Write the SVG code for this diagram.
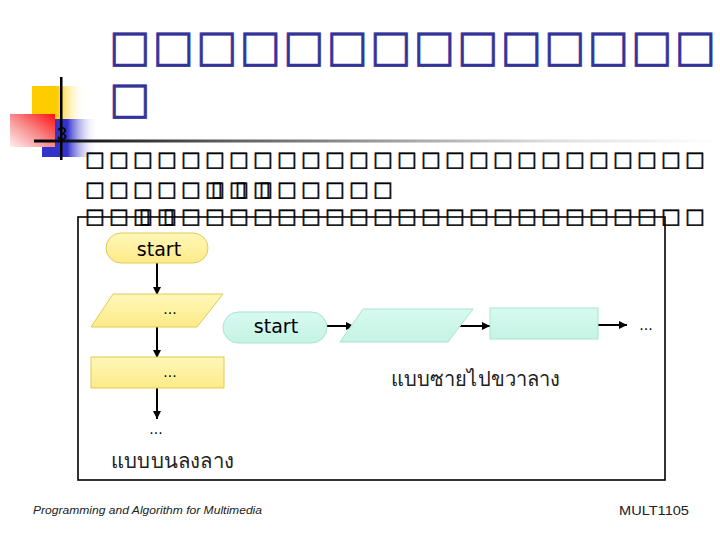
<svg xmlns="http://www.w3.org/2000/svg" width="720" height="540" viewBox="0 0 720 540">
<defs>
<linearGradient id="gYel" x1="0" y1="0" x2="1" y2="0"><stop offset="0" stop-color="#FFCC00"/><stop offset="0.45" stop-color="#FFCC00"/><stop offset="1" stop-color="#FFFFFF" stop-opacity="0"/></linearGradient>
<linearGradient id="gBlue" x1="0" y1="0" x2="1" y2="0"><stop offset="0" stop-color="#3333CC"/><stop offset="0.45" stop-color="#3333CC"/><stop offset="1" stop-color="#FFFFFF" stop-opacity="0"/></linearGradient>
<linearGradient id="gRed" x1="1" y1="0" x2="0" y2="1"><stop offset="0" stop-color="#FF1010"/><stop offset="0.5" stop-color="#F78A8A"/><stop offset="1" stop-color="#FFF0F0"/></linearGradient>
<linearGradient id="gLine" x1="0" y1="0" x2="1" y2="0"><stop offset="0" stop-color="#000000"/><stop offset="0.25" stop-color="#555555"/><stop offset="0.75" stop-color="#DDDDDD"/><stop offset="1" stop-color="#FFFFFF"/></linearGradient>
<linearGradient id="gY" x1="0" y1="0" x2="0" y2="1"><stop offset="0" stop-color="#FFF7B8"/><stop offset="1" stop-color="#FDEB88"/></linearGradient>
<linearGradient id="gC" x1="0" y1="0" x2="0" y2="1"><stop offset="0" stop-color="#D8FAF0"/><stop offset="1" stop-color="#C4F3E4"/></linearGradient>
<marker id="arr" viewBox="0 0 10 10" refX="10" refY="5" markerWidth="8" markerHeight="8" markerUnits="userSpaceOnUse" orient="auto"><path d="M0,0 L10,5 L0,10 z" fill="#000"/></marker>
</defs>
<style>
.title{font-family:"DejaVu Sans",sans-serif;font-size:44px;fill:#333399;stroke:#333399;stroke-width:0.6}
.body{font-family:"DejaVu Sans",sans-serif;font-size:21px;font-weight:bold;fill:#000;stroke:#000;stroke-width:0.5}
.lbl{font-family:"DejaVu Sans",sans-serif;font-size:19px;fill:#000}
.dots{font-family:"DejaVu Sans",sans-serif;font-size:14px;fill:#000}
.thai{font-family:"Noto Sans","DejaVu Sans",sans-serif;font-size:20px;fill:#222}
.foot{font-family:"Liberation Sans",Arial,sans-serif;fill:#222}
.ty{fill:url(#gY);stroke:#E2C955;stroke-width:1}
.tc{fill:url(#gC);stroke:#A9E3D3;stroke-width:1}
.con{stroke:#000;stroke-width:2;fill:none;marker-end:url(#arr)}
</style>
<rect width="720" height="540" fill="#FFFFFF"/>
<g id="decor">
<rect x="32" y="86" width="54" height="33" fill="url(#gYel)"/>
<rect x="42" y="119" width="56" height="38" fill="url(#gBlue)"/>
<rect x="10" y="114" width="45" height="33" fill="url(#gRed)"/>
<rect x="34" y="139.5" width="686" height="3" fill="url(#gLine)"/>
<rect x="60" y="77" width="2.5" height="83" fill="#000"/>
<text x="57" y="140" font-family="Liberation Sans,Arial,sans-serif" font-size="18" fill="#000">3</text>
</g>
<g id="title">
<text class="title" x="109 152.5 196 239.5 283 326.5 370 413.5 457 500.5 544 587.5 631 674.5" y="61">□□□□□□□□□□□□□□</text>
<text class="title" x="109" y="113">□</text>
</g>
<g id="bodytext">
<text class="body" x="85 109 133 157 181 205 229 253 277 301 325 349 373 397 421 445 469 493 517 541 565 589 613 637 661 685" y="166">□□□□□□□□□□□□□□□□□□□□□□□□□□</text>
<text class="body" x="85 109 133 157 181 205 211 229 235 253 259 277 301 325 349 373" y="196">□□□□□□▯□▯□▯□□□□□</text>
<text class="body" x="85 109 133 139 157 163 181 205 229 253 277 301 325 349 373 397 421 445 469 493 517 541 565 589 613 637 661 685" y="223">□□□▯□▯□□□□□□□□□□□□□□□□□□□□□□</text>
</g>
<g id="frame">
<rect x="78" y="217" width="587" height="263" fill="none" stroke="#000" stroke-width="1.6"/>
</g>
<g id="connectors">
<line class="con" x1="157" y1="263" x2="157" y2="295"/>
<line class="con" x1="157" y1="327" x2="157" y2="358"/>
<line class="con" x1="157" y1="388" x2="157" y2="419"/>
<line class="con" x1="327" y1="326" x2="354" y2="326"/>
<line class="con" x1="460" y1="326" x2="490" y2="326"/>
<line class="con" x1="598" y1="325" x2="627" y2="325"/>
</g>
<g id="y-start">
<rect class="ty" x="106" y="233" width="102" height="30" rx="15"/>
<text class="lbl" x="159" y="256" text-anchor="middle">start</text>
</g>
<g id="y-input">
<polygon class="ty" points="113,294 223,294 197,327 91,327"/>
<text class="dots" x="170" y="314" text-anchor="middle">...</text>
</g>
<g id="y-process">
<rect class="ty" x="91" y="357" width="133" height="31"/>
<text class="dots" x="170" y="377" text-anchor="middle">...</text>
</g>
<g id="y-next">
<text class="dots" x="156" y="434" text-anchor="middle">...</text>
</g>
<g id="y-caption">
<text class="thai" x="111" y="468" textLength="123" lengthAdjust="spacingAndGlyphs">แบบบนลงลาง</text>
</g>
<g id="c-start">
<rect class="tc" x="223" y="312" width="104" height="31" rx="15.5"/>
<text class="lbl" x="276" y="333" text-anchor="middle">start</text>
</g>
<g id="c-input">
<polygon class="tc" points="363,309 473,309 448,342 340,342"/>
</g>
<g id="c-process">
<rect class="tc" x="490" y="308" width="108" height="31"/>
</g>
<g id="c-next">
<text class="dots" x="646" y="330" text-anchor="middle">...</text>
</g>
<g id="c-caption">
<text class="thai" x="391" y="386" textLength="169" lengthAdjust="spacingAndGlyphs">แบบซายไปขวาลาง</text>
</g>
<g id="footer">
<text class="foot" x="33" y="514" font-size="11" font-style="italic" textLength="229" lengthAdjust="spacingAndGlyphs">Programming and Algorithm for Multimedia</text>
<text class="foot" x="619" y="515" font-size="13" textLength="70" lengthAdjust="spacingAndGlyphs">MULT1105</text>
</g>
</svg>
